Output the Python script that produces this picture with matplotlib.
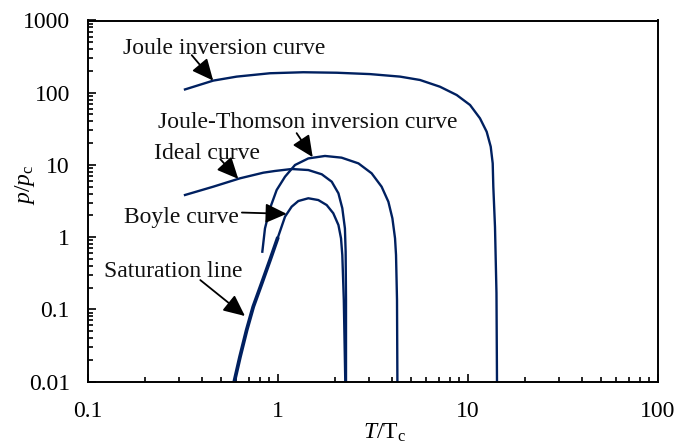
import matplotlib
matplotlib.use("Agg")
import matplotlib.pyplot as plt
from matplotlib.ticker import LogLocator, FixedLocator, FixedFormatter, NullFormatter

# values, reduced temperature T/Tc and reduced pressure p/pc
joule_T = [0.324, 0.456, 0.606, 0.908, 1.359, 2.04, 3.05, 4.39, 5.59, 7.12, 8.72, 10.25,
           11.56, 12.54, 13.17, 13.49, 13.59, 13.87, 14.12, 14.21]
joule_p = [111, 147, 167, 186, 192, 189, 181, 167, 150, 121, 92.9, 67.6,
           44.2, 28.8, 17.9, 10.5, 4.99, 1.38, 0.168, 0.01]

jt_T = [0.827, 0.854, 0.908, 0.984, 1.089, 1.229, 1.444, 1.767, 2.16, 2.65, 3.11, 3.51,
        3.81, 4.00, 4.13, 4.18, 4.23, 4.25]
jt_p = [0.628, 1.32, 2.51, 4.49, 6.87, 9.97, 12.3, 13.3, 12.6, 10.5, 7.65, 4.99,
        3.09, 1.82, 0.962, 0.565, 0.135, 0.01]

ideal_T = [0.324, 0.456, 0.631, 0.837, 0.964, 1.18, 1.444, 1.70, 1.918, 2.08, 2.18, 2.25,
           2.27, 2.28, 2.28]
ideal_p = [3.83, 4.99, 6.52, 7.80, 8.24, 8.77, 8.49, 7.41, 5.85, 4.04, 2.51, 1.32,
           0.628, 0.135, 0.01]

boyle_T = [1.0, 1.089, 1.18, 1.279, 1.444, 1.63, 1.804, 1.954, 2.08, 2.146, 2.18, 2.22, 2.26]
boyle_p = [1.0, 1.92, 2.64, 3.16, 3.45, 3.26, 2.78, 2.14, 1.47, 0.962, 0.565, 0.135, 0.01]

sat_T = [0.589, 0.631, 0.684, 0.741, 0.821, 0.908, 1.0]
sat_p = [0.01, 0.022, 0.0516, 0.1087, 0.229, 0.482, 1.0]

y_ticks = [0.01, 0.1, 1, 10, 100, 1000]
y_labels = ["0.01", "0.1", "1", "10", "100", "1000"]
x_ticks = [0.1, 1, 10, 100]
x_labels = ["0.1", "1", "10", "100"]

# (label, text pos in axes fraction, arrow tail in axes fraction, arrow tip in data)
labels = [
    ("Joule inversion curve", (0.062, 0.908), (0.182, 0.904), (0.456, 147)),
    ("Joule-Thomson inversion curve", (0.123, 0.701), (0.366, 0.688), (1.523, 12.8)),
    ("Ideal curve", (0.115, 0.616), (0.232, 0.616), (0.618, 6.4)),
    ("Boyle curve", (0.064, 0.440), (0.270, 0.468), (1.111, 2.1)),
    ("Saturation line", (0.028, 0.289), (0.197, 0.281), (0.670, 0.0807)),
]

plt.rcParams["font.family"] = ["Liberation Serif", "DejaVu Serif"]
plt.rcParams["mathtext.fontset"] = "custom"
plt.rcParams["mathtext.rm"] = "Liberation Serif"
plt.rcParams["mathtext.it"] = "Liberation Serif:italic"
plt.rcParams["font.size"] = 17

navy = "#002060"

fig = plt.figure(figsize=(6.75, 4.46), dpi=100)
ax = fig.add_axes([88 / 675, 1 - 381.5 / 446, 570 / 675, 361 / 446])

line_kw = dict(color=navy, lw=1.7, solid_joinstyle="round")
ax.plot(joule_T, joule_p, **line_kw)
ax.plot(jt_T, jt_p, **line_kw)
ax.plot(ideal_T, ideal_p, **line_kw)
ax.plot(boyle_T, boyle_p, **line_kw)
ax.plot(sat_T, sat_p, color=navy, lw=2.7, solid_capstyle="butt", solid_joinstyle="round")

ax.set_xscale("log")
ax.set_yscale("log")
ax.set_xlim(0.1, 100)
ax.set_ylim(0.01, 1000)

ax.xaxis.set_major_locator(FixedLocator(x_ticks))
ax.xaxis.set_major_formatter(FixedFormatter(x_labels))
ax.yaxis.set_major_locator(FixedLocator(y_ticks))
ax.yaxis.set_major_formatter(FixedFormatter(y_labels))
ax.xaxis.set_minor_locator(LogLocator(base=10, subs=range(2, 10)))
ax.yaxis.set_minor_locator(LogLocator(base=10, subs=range(2, 10)))
ax.xaxis.set_minor_formatter(NullFormatter())
ax.yaxis.set_minor_formatter(NullFormatter())

ax.tick_params(which="both", direction="in", top=False, right=False, width=1.2, color="black")
ax.tick_params(which="major", length=5.5)
ax.tick_params(which="minor", length=3.5)
ax.tick_params(axis="x", which="major", pad=14)
ax.tick_params(axis="y", which="major", pad=13)
for s in ax.spines.values():
    s.set_linewidth(1.4)
    s.set_color("black")

ax.set_xlabel(r"$T/\mathrm{T}_\mathrm{c}$", labelpad=0)
ax.xaxis.set_label_coords(0.52, -0.112)
ax.set_ylabel(r"$p/p_\mathrm{c}$", labelpad=0)
ax.yaxis.set_label_coords(-0.09, 0.544)

for text, txt_pos, tail, tip in labels:
    ax.text(txt_pos[0], txt_pos[1], text, transform=ax.transAxes, ha="left", va="baseline", color="#111111")
    ax.annotate("", xy=tip, xycoords="data", xytext=tail, textcoords="axes fraction",
                arrowprops=dict(arrowstyle="-|>,head_length=0.65,head_width=0.3",
                                color="black", lw=1.3, shrinkA=0, shrinkB=0, mutation_scale=20))

fig.savefig("out.png", dpi=100)
